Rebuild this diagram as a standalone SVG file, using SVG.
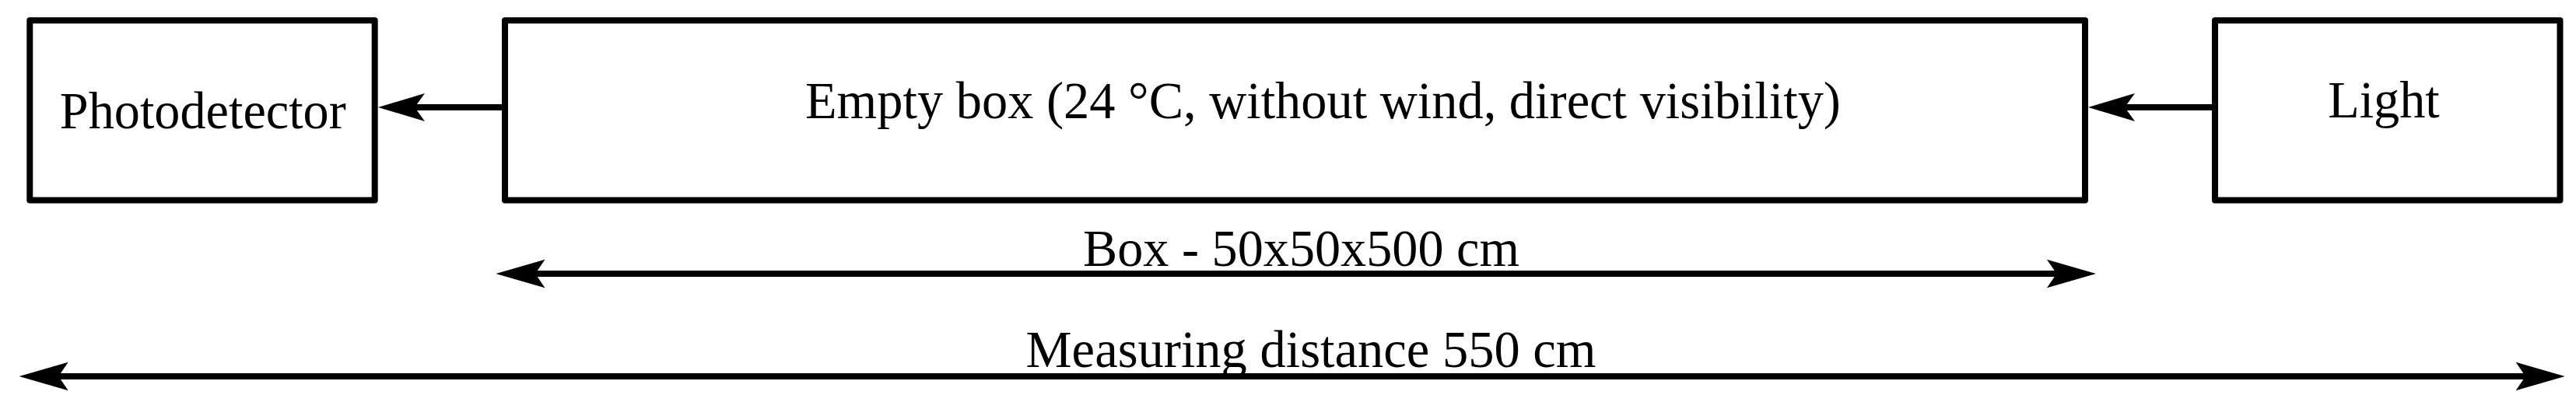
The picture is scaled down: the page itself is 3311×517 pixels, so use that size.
<svg xmlns="http://www.w3.org/2000/svg" width="3311" height="517" viewBox="0 0 3311 517">
<style>
.node rect{fill:#fff;stroke:#000;stroke-width:8;stroke-linejoin:round}
text{font-family:"Liberation Serif","Times New Roman",serif;font-size:68px;fill:#000}
.conn line{stroke:#000;stroke-width:8;stroke-linecap:butt}
</style>
<defs>
<marker id="arrS" markerUnits="userSpaceOnUse" markerWidth="80" markerHeight="50" refX="0" refY="0" orient="auto-start-reverse" overflow="visible">
<path d="M0,0 L-13,-18 L47,0 L-13,18 Z" fill="#000"/>
</marker>
<marker id="arrL" markerUnits="userSpaceOnUse" markerWidth="80" markerHeight="50" refX="0" refY="0" orient="auto-start-reverse" overflow="visible">
<path d="M0,0 L-12.5,-18.3 L50.6,0 L-12.5,18.3 Z" fill="#000"/>
</marker>
</defs>
<rect width="3311" height="517" fill="#fff"/>
<g id="photodetector" class="node">
<rect x="38.3" y="26.3" width="443.4" height="231.2"/>
<text x="76.8" y="165" textLength="368" lengthAdjust="spacingAndGlyphs">Photodetector</text>
</g>
<g id="empty-box" class="node">
<rect x="649" y="26.3" width="2031" height="231.2"/>
<text x="1035" y="151.5" textLength="1331" lengthAdjust="spacingAndGlyphs">Empty box (24 °C, without wind, direct visibility)</text>
</g>
<g id="light" class="node">
<rect x="2847" y="26.3" width="443.5" height="231.2"/>
<text x="2992.3" y="151" textLength="143.4" lengthAdjust="spacingAndGlyphs">Light</text>
</g>
<g id="connectors" class="conn">
<line x1="649" y1="138" x2="533" y2="138" marker-end="url(#arrS)"/>
<line x1="2847" y1="138" x2="2731" y2="138" marker-end="url(#arrS)"/>
<line x1="688" y1="352" x2="2643.4" y2="352" marker-start="url(#arrL)" marker-end="url(#arrL)"/>
<line x1="75.2" y1="484" x2="3246.1" y2="484" marker-start="url(#arrL)" marker-end="url(#arrL)"/>
</g>
<g id="dimension-labels">
<text x="1392" y="342.3" textLength="561" lengthAdjust="spacingAndGlyphs">Box - 50x50x500 cm</text>
<text x="1318.5" y="471.7" textLength="733" lengthAdjust="spacingAndGlyphs">Measuring distance 550 cm</text>
</g>
</svg>
